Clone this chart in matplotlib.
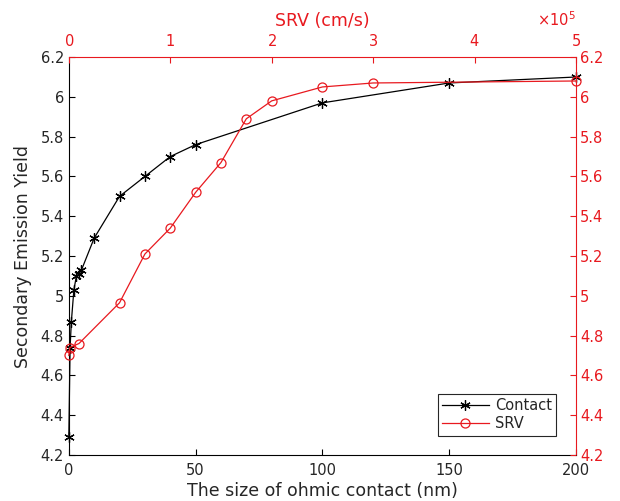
import numpy as np
import matplotlib
matplotlib.use("Agg")
import matplotlib.pyplot as plt
from matplotlib.ticker import ScalarFormatter, StrMethodFormatter

# Secondary emission yield vs. ohmic contact size
contact_nm = [0, 0.5, 1, 2, 3, 4, 5, 10, 20, 30, 40, 50, 100, 150, 200]
contact_sey = [4.29, 4.74, 4.87, 5.03, 5.10, 5.11, 5.13, 5.29, 5.50, 5.60,
               5.70, 5.76, 5.97, 6.07, 6.10]

# Secondary emission yield vs. surface recombination velocity
srv_cms = [0, 1e3, 1e4, 5e4, 7.5e4, 1e5, 1.25e5, 1.5e5, 1.75e5, 2e5,
           2.5e5, 3e5, 5e5]
srv_sey = [4.70, 4.74, 4.76, 4.965, 5.21, 5.34, 5.52, 5.67, 5.89, 5.98,
           6.05, 6.07, 6.08]

yticks = [4.2, 4.4, 4.6, 4.8, 5.0, 5.2, 5.4, 5.6, 5.8, 6.0, 6.2]
red = "#e8191f"
dark = "#262626"

plt.rcParams['font.family'] = 'DejaVu Sans'

fig = plt.figure(figsize=(6.2, 5.01), dpi=100)
pos = [0.111, 0.092, 0.818, 0.794]
ax = fig.add_axes(pos)
ax2 = fig.add_axes(pos, frameon=False)

# asterisk marker like MATLAB's '*'
l1, = ax.plot(contact_nm, contact_sey, color='black', lw=0.9, marker=(6, 2, 0),
              markersize=7.5, markeredgewidth=0.9,
              clip_on=False, label='Contact')
ax.set_xlim(0, 200)
ax.set_ylim(4.2, 6.2)
ax.set_xticks([0, 50, 100, 150, 200])
ax.set_yticks(yticks)
ax.yaxis.set_major_formatter(StrMethodFormatter('{x:g}'))
ax.tick_params(direction='in', length=4, labelsize=10.5, top=False, right=False,
               labelcolor=dark)
ax.tick_params(axis='x', pad=6)
ax.set_xlabel('The size of ohmic contact (nm)', fontsize=12.5, labelpad=3, color=dark)
ax.set_ylabel('Secondary Emission Yield', fontsize=12.5, labelpad=6, color=dark)
ax.spines['top'].set_color(red)
ax.spines['right'].set_color(red)

l2, = ax2.plot(srv_cms, srv_sey, color=red, lw=0.9, marker='o',
               markersize=6.5, markerfacecolor='none', markeredgewidth=0.9,
               clip_on=False, label='SRV')
ax2.set_xlim(0, 5e5)
ax2.set_ylim(4.2, 6.2)
ax2.set_yticks(yticks)
ax2.xaxis.tick_top()
ax2.xaxis.set_label_position('top')
ax2.yaxis.tick_right()
ax2.yaxis.set_label_position('right')
fmt = ScalarFormatter(useMathText=True)
fmt.set_powerlimits((0, 0))
ax2.xaxis.set_major_formatter(fmt)
ax2.yaxis.set_major_formatter(StrMethodFormatter('{x:g}'))
ax2.tick_params(direction='in', length=4, labelsize=10.5, colors=red, pad=3)
ax2.tick_params(axis='x', pad=6)
ax2.xaxis.get_offset_text().set_color(red)
ax2.xaxis.get_offset_text().set_fontsize(10.5)
ax2.set_xlabel('SRV (cm/s)', fontsize=12.5, color=red, labelpad=5)

leg = ax2.legend([l1, l2], ['Contact', 'SRV'], loc='lower right',
                 bbox_to_anchor=(0.975, 0.03), fontsize=10.5, handlelength=3.2,
                 fancybox=False, edgecolor=dark, framealpha=1,
                 borderpad=0.3, labelspacing=0.2, handletextpad=0.4)
leg.get_frame().set_linewidth(0.8)
for t in leg.get_texts():
    t.set_color(dark)

fig.savefig('out.png', dpi=100)
